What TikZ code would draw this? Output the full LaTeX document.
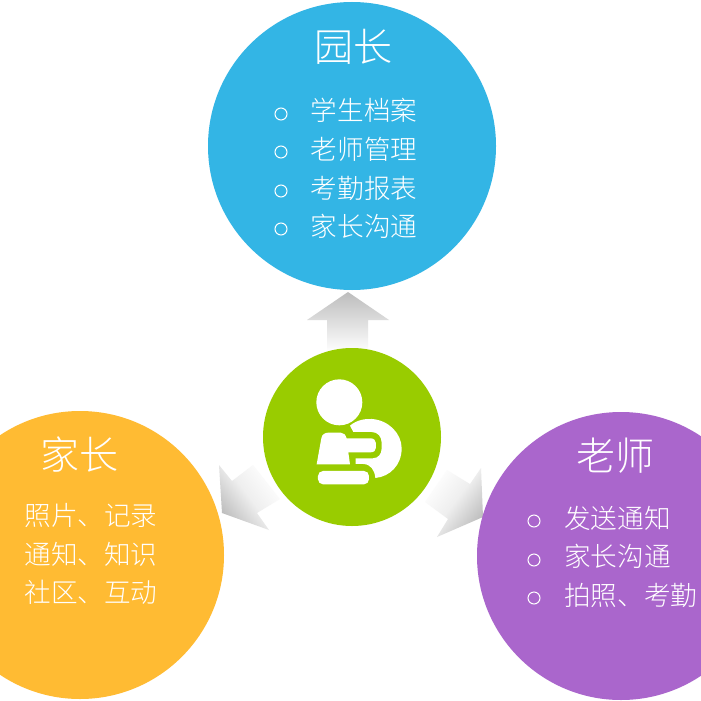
\documentclass[tikz,border=0pt]{standalone}
\usepackage{fontspec}
\newfontfamily\cjk{Noto Sans CJK SC Light}
\definecolor{yuanblue}{HTML}{33B5E5}
\definecolor{kidgreen}{HTML}{99CC00}
\definecolor{jiaorange}{HTML}{FFBB33}
\definecolor{shipurple}{HTML}{AA66CC}
\definecolor{arrowgray}{HTML}{BDBDBD}
\tikzset{
  role/.style={circle, minimum size=288pt, inner sep=0pt, text=white},
  title/.style={text=white, inner sep=0pt, font=\cjk\fontsize{39}{42}\selectfont},
  item/.style={text=white, inner sep=0pt, font=\cjk\fontsize{26.6}{30}\selectfont},
  bullet/.style={circle, draw=white, line width=1pt, minimum size=12pt, inner sep=0pt},
  flow/.style={top color=arrowgray, bottom color=white, draw=none},
  sideflow/.style={top color=arrowgray, bottom color=white, middle color=arrowgray!25!white, draw=none}
}
\begin{document}
\begin{tikzpicture}[x=1pt, y=-1pt]
  \clip (0, 0) rectangle (701, 701);
  \fill [white] (0, 0) rectangle (701, 701);

  % arrows
  \shade [flow] (348, 292) -- (389, 320) -- (368, 320) -- (368, 352) -- (327, 352) -- (327, 320) -- (307, 320) -- cycle;
  \shade [sideflow, shading angle=127] (222, 513) -- (219, 465) -- (232, 481) -- (253, 465) -- (280, 499) -- (257, 513) -- (269, 530) -- cycle;
  \shade [sideflow, shading angle=-127] (483, 517) -- (481, 468) -- (470, 484) -- (447, 470) -- (425, 502) -- (448, 519) -- (437, 537) -- cycle;

  % circles
  \node [role, fill=yuanblue] (yuan) at (352, 146) {};
  \node [role, fill=jiaorange] (jia) at (80, 555) {};
  \node [role, fill=shipurple] (shi) at (621, 556) {};
  \node [circle, fill=kidgreen, minimum size=178pt, inner sep=0pt] (kid) at (352, 437) {};

  % icon
  \begin{scope}[shift={(250, 280)}, x=0.3333pt, y=-0.3333pt]
    \fill [white] (268, 367) circle [radius=69];
    \fill [white] (300, 437) .. controls (320, 420) and (345, 416) .. (365, 417)
      .. controls (415, 420) and (455, 460) .. (455, 505)
      .. controls (455, 555) and (420, 590) .. (376, 594)
      .. controls (374, 570) and (362, 553) .. (340, 552) -- (317, 552) -- (317, 535) -- (368, 535)
      .. controls (385, 535) and (395, 522) .. (395, 505) -- (395, 488)
      .. controls (395, 470) and (383, 456) .. (365, 456) -- (310, 456) -- cycle;
    \fill [white] (200, 553) -- (214, 475) .. controls (216, 463) and (225, 458) .. (235, 458) -- (272, 458)
      .. controls (282, 458) and (286, 464) .. (290, 475) -- (362, 475)
      .. controls (372, 475) and (378, 482) .. (378, 490) -- (378, 503)
      .. controls (378, 511) and (372, 517) .. (362, 517) -- (295, 517) -- (300, 553) -- cycle;
    \fill [white, rounded corners=5pt] (204, 573) rectangle (357, 613);
  \end{scope}

  % top circle
  \node [title] (yuantitle) at (353, 47) {园长};
  \node [item] (yuana) at (364, 110) {学生档案};
  \node [item] (yuanb) at (364, 149) {老师管理};
  \node [item] (yuanc) at (364, 188) {考勤报表};
  \node [item] (yuand) at (364, 226) {家长沟通};
  \node [bullet] (ba) at (281, 114) {};
  \node [bullet] (bb) at (281, 152) {};
  \node [bullet] (bc) at (281, 191) {};
  \node [bullet] (bd) at (281, 229) {};

  % left circle
  \node [title] (jiatitle) at (79, 455) {家长};
  \node [item] (jiaa) at (91, 515) {照片、记录};
  \node [item] (jiab) at (91, 554) {通知、知识};
  \node [item] (jiac) at (91, 592) {社区、互动};

  % right circle
  \node [title] (shititle) at (615, 456) {老师};
  \node [item, anchor=west] (shia) at (564, 518) {发送通知};
  \node [item, anchor=west] (shib) at (564, 556) {家长沟通};
  \node [item, anchor=west] (shic) at (564, 595) {拍照、考勤};
  \node [bullet] (bx) at (534, 521) {};
  \node [bullet] (by) at (534, 560) {};
  \node [bullet] (bz) at (534, 598) {};
\end{tikzpicture}
\end{document}
